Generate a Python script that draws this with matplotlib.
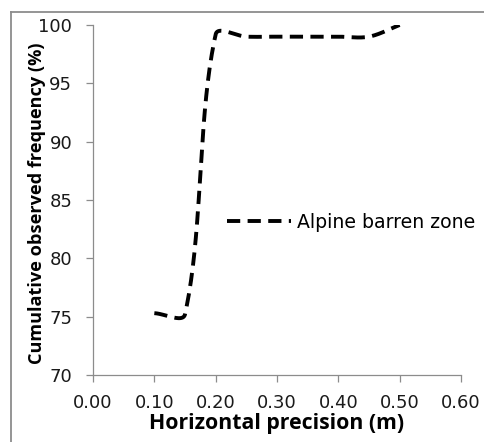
import numpy as np
import matplotlib
matplotlib.use("Agg")
import matplotlib.pyplot as plt
from matplotlib.lines import Line2D

plt.rcParams['font.family'] = ['DejaVu Sans']

# Data
precision = [0.10, 0.15, 0.20, 0.25, 0.30, 0.35, 0.40, 0.45, 0.50]
cum_freq = [75.3, 75.2, 99.2, 99.0, 99.0, 99.0, 99.0, 99.0, 100.0]
series_name = "Alpine barren zone"
xticks = [0.0, 0.1, 0.2, 0.3, 0.4, 0.5, 0.6]
yticks = [70, 75, 80, 85, 90, 95, 100]

W, H = 484, 442
fig = plt.figure(figsize=(W / 100, H / 100), dpi=100)
ax = fig.add_axes([93 / W, 1 - 375 / H, (461 - 93) / W, (375 - 25) / H])
ax.set_xlim(0, 0.6)
ax.set_ylim(70, 100)


def excel_smooth(xs, ys, ax, n=40):
    # Bezier smoothing in display space with length-weighted tangents
    pts = ax.transData.transform(np.column_stack([xs, ys]))
    out = [pts[0]]
    m = len(pts)
    for i in range(m - 1):
        p0 = pts[i - 1] if i > 0 else pts[i]
        p1 = pts[i]
        p2 = pts[i + 1]
        p3 = pts[i + 2] if i + 2 < m else pts[i + 1]
        d0 = np.linalg.norm(p1 - p0)
        d1 = np.linalg.norm(p2 - p1)
        d2 = np.linalg.norm(p3 - p2)
        f1 = d1 / (d0 + d1) / 1.5 if d0 + d1 > 0 else 0
        f2 = d1 / (d1 + d2) / 1.5 if d1 + d2 > 0 else 0
        c1 = p1 + (p2 - p0) * f1 / 2
        c2 = p2 - (p3 - p1) * f2 / 2
        t = np.linspace(0, 1, n)[1:, None]
        seg = ((1 - t) ** 3) * p1 + 3 * ((1 - t) ** 2) * t * c1 + 3 * (1 - t) * t ** 2 * c2 + t ** 3 * p2
        out.extend(seg)
    out = np.array(out)
    return ax.transData.inverted().transform(out)


curve = excel_smooth(precision, cum_freq, ax)
lw = 2.8
ax.plot(curve[:, 0], curve[:, 1], color='black', lw=lw, dashes=(3.4, 1.9),
        solid_capstyle='butt', dash_capstyle='butt')

gray = '#8c8c8c'
for s in ['top', 'right']:
    ax.spines[s].set_visible(False)
for s in ['left', 'bottom']:
    ax.spines[s].set_color(gray)
    ax.spines[s].set_linewidth(0.9)
ax.set_xticks(xticks)
ax.set_yticks(yticks)
ax.set_xticklabels([f"{v:.2f}" for v in xticks])
ax.set_yticklabels([str(v) for v in yticks])
ax.tick_params(axis='both', direction='out', length=5, width=0.9, color=gray,
               labelsize=13, labelcolor='#1a1a1a')
ax.tick_params(axis='y', pad=10)
ax.tick_params(axis='x', pad=9)

label_font = ['Open Sans', 'DejaVu Sans']
ax.set_xlabel("Horizontal precision (m)", fontsize=15.3, fontweight='bold', family=label_font)
ax.xaxis.set_label_coords((277 - 93) / 368, -(413 - 375) / 350)
ax.set_ylabel("Cumulative observed frequency (%)", fontsize=13.1, fontweight='bold', family=label_font)
ax.yaxis.set_label_coords(-(93 - 46) / 368, (375 - 203) / 350)

handle = Line2D([], [], color='black', lw=lw, dashes=(3.4, 1.9), dash_capstyle='butt')
leg = ax.legend([handle], [series_name], loc='center left',
                bbox_to_anchor=((227 - 93) / 368, (375 - 222) / 350),
                frameon=False, fontsize=13.6, handlelength=3.4, handletextpad=0.3,
                borderpad=0, borderaxespad=0)

# outer chart-area border
fig.add_artist(Line2D([11 / W, 1.0], [1 - 12 / H, 1 - 12 / H], transform=fig.transFigure,
                      color=gray, lw=1.3))
fig.add_artist(Line2D([11 / W, 11 / W], [0, 1 - 12 / H], transform=fig.transFigure,
                      color=gray, lw=1.3))

fig.savefig("out.png", dpi=100)
